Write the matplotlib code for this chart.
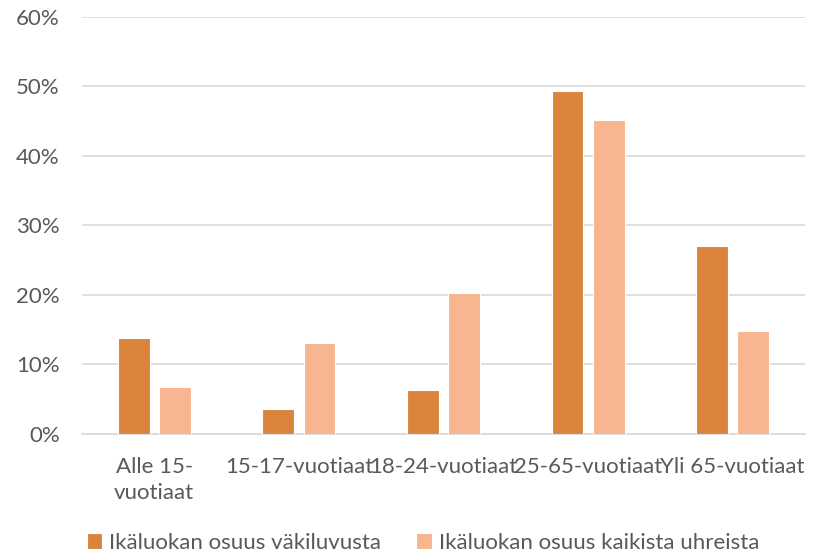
import matplotlib
matplotlib.use("Agg")
import matplotlib.pyplot as plt
import numpy as np
from matplotlib.ticker import FuncFormatter

categories = ["Alle 15-\nvuotiaat", "15-17-vuotiaat", "18-24-vuotiaat",
              "25-65-vuotiaat", "Yli 65-vuotiaat"]
vakiluku = [13.8, 3.55, 6.2, 49.4, 27.0]
uhrit = [6.7, 13.1, 20.3, 45.1, 14.8]
series_names = ["Ikäluokan osuus väkiluvusta", "Ikäluokan osuus kaikista uhreista"]
yticks = [0, 10, 20, 30, 40, 50, 60]

DARK = "#DB843E"
LIGHT = "#F8B690"
TEXT = "#595959"

plt.rcParams["font.family"] = ["Lato", "DejaVu Sans"]

W, H = 816, 557
fig = plt.figure(figsize=(W / 100, H / 100), dpi=100)
ax = fig.add_axes([82 / W, 1 - 433.5 / H, (805 - 82) / W, (433.5 - 17) / H])

x = np.arange(len(categories))
bw = 0.22
off = 0.142
ax.bar(x - off, vakiluku, bw, color=DARK, edgecolor="white", linewidth=0.8,
       label=series_names[0], zorder=3)
ax.bar(x + off, uhrit, bw, color=LIGHT, edgecolor="white", linewidth=0.8,
       label=series_names[1], zorder=3)

ax.set_xlim(-0.5, len(categories) - 0.5)
ax.set_ylim(0, 60)
ax.set_yticks(yticks)
ax.yaxis.set_major_formatter(FuncFormatter(lambda v, p: f"{v:.0f}%"))
ax.set_xticks(x)
ax.set_xticklabels(categories, linespacing=1.35)
ax.grid(axis="y", color="#D9D9D9", linewidth=1.2, zorder=0)
for s in ("top", "right", "left"):
    ax.spines[s].set_visible(False)
ax.spines["bottom"].set_color("#D9D9D9")
ax.spines["bottom"].set_linewidth(1.2)
ax.tick_params(axis="both", length=0, labelsize=16, colors=TEXT)
ax.tick_params(axis="x", pad=17)
ax.tick_params(axis="y", pad=16)

fig.legend(loc="lower center", bbox_to_anchor=(0.518, -0.028), ncol=2, frameon=False,
           fontsize=16, labelcolor=TEXT, handlelength=0.7, handleheight=0.7,
           handletextpad=0.3, columnspacing=1.6)

fig.savefig("out.png", dpi=100)
